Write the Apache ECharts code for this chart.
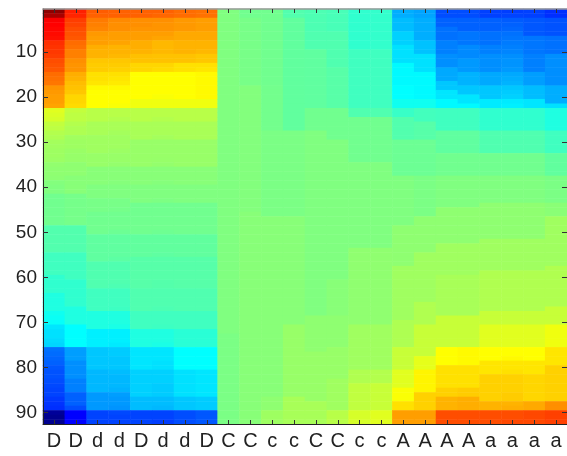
<!DOCTYPE html>
<html>
<head>
<meta charset="utf-8">
<script src="https://cdn.jsdelivr.net/npm/echarts@6/dist/echarts.min.js"></script>
<style>
  html, body { margin: 0; padding: 0; background: #fff; }
  #chart { width: 567px; height: 456px; }
</style>
</head>
<body>
<div id="chart"></div>
<script>
// Column labels along the bottom edge
const xLabels = ['D','D','d','d','D','d','d','D','C','C','c','c','C','C','c','c','A','A','A','A','a','a','a','a'];
// Row tick labels on the left edge
const yTickLabels = [10, 20, 30, 40, 50, 60, 70, 80, 90];
const rowCount = 92;

// Cell values, one array per column, rows 1..92 from top to bottom
const col01 = [
  0.97, 0.92, 0.76, 0.75, 0.74, 0.73, 0.72, 0.66, 0.65, 0.64,
  0.63, 0.60, 0.59, 0.58, 0.54, 0.53, 0.52, 0.46, 0.45, 0.44,
  0.44, 0.43, 0.19, 0.18, 0.17, 0.13, 0.12, 0.10, 0.09, 0.07,
  0.065, 0.06, 0.06, 0.055, 0.035, 0.03, 0.03, 0.025, 0.005, 0.00,
  0.00, -0.03, -0.03, -0.03, -0.03, -0.03, -0.03, -0.03, -0.09, -0.09,
  -0.09, -0.09, -0.09, -0.09, -0.125, -0.125, -0.125, -0.125, -0.125, -0.156,
  -0.156, -0.156, -0.156, -0.19, -0.19, -0.19, -0.19, -0.22, -0.23, -0.24,
  -0.30, -0.31, -0.31, -0.32, -0.33, -0.53, -0.54, -0.55, -0.56, -0.58,
  -0.59, -0.59, -0.60, -0.61, -0.62, -0.62, -0.64, -0.65, -0.66, -0.95,
  -0.97, -0.97
];
const col02 = [
  0.69, 0.68, 0.63, 0.62, 0.60, 0.59, 0.58, 0.54, 0.53, 0.50,
  0.50, 0.47, 0.46, 0.46, 0.41, 0.40, 0.38, 0.37, 0.36, 0.33,
  0.33, 0.32, 0.13, 0.12, 0.12, 0.10, 0.09, 0.09, 0.065, 0.06,
  0.06, 0.05, 0.045, 0.045, 0.03, 0.03, 0.03, 0.015, 0.015, 0.015,
  0.015, -0.02, -0.02, -0.02, -0.02, -0.02, -0.02, -0.02, -0.09, -0.09,
  -0.09, -0.09, -0.09, -0.09, -0.125, -0.125, -0.125, -0.125, -0.125, -0.125,
  -0.156, -0.156, -0.156, -0.156, -0.156, -0.156, -0.19, -0.19, -0.19, -0.19,
  -0.25, -0.25, -0.25, -0.25, -0.25, -0.44, -0.44, -0.44, -0.47, -0.47,
  -0.47, -0.47, -0.50, -0.50, -0.50, -0.56, -0.56, -0.56, -0.60, -0.75,
  -0.75, -0.75
];
const col03 = [
  0.57, 0.56, 0.51, 0.50, 0.49, 0.45, 0.44, 0.44, 0.41, 0.40,
  0.40, 0.36, 0.35, 0.35, 0.31, 0.31, 0.30, 0.26, 0.25, 0.25,
  0.25, 0.25, 0.11, 0.11, 0.11, 0.08, 0.08, 0.08, 0.0625, 0.0625,
  0.0625, 0.0625, 0.047, 0.047, 0.047, 0.016, 0.016, 0.016, 0.016, 0.00,
  0.00, 0.00, -0.015, -0.015, -0.015, -0.03, -0.03, -0.03, -0.03, -0.03,
  -0.0625, -0.0625, -0.0625, -0.0625, -0.0625, -0.0625, -0.094, -0.094, -0.094, -0.094,
  -0.094, -0.094, -0.125, -0.125, -0.125, -0.125, -0.125, -0.19, -0.19, -0.19,
  -0.19, -0.28, -0.28, -0.28, -0.28, -0.36, -0.36, -0.36, -0.36, -0.36,
  -0.39, -0.39, -0.39, -0.39, -0.39, -0.45, -0.45, -0.45, -0.45, -0.62,
  -0.62, -0.62
];
const col04 = [
  0.56, 0.56, 0.48, 0.47, 0.47, 0.44, 0.44, 0.43, 0.40, 0.40,
  0.39, 0.36, 0.35, 0.34, 0.31, 0.30, 0.29, 0.26, 0.25, 0.25,
  0.25, 0.24, 0.11, 0.11, 0.10, 0.08, 0.08, 0.07, 0.0625, 0.0625,
  0.0625, 0.055, 0.047, 0.047, 0.04, 0.016, 0.016, 0.016, 0.01, 0.00,
  0.00, 0.00, -0.015, -0.015, -0.02, -0.03, -0.03, -0.03, -0.03, -0.04,
  -0.0625, -0.0625, -0.0625, -0.0625, -0.0625, -0.07, -0.094, -0.094, -0.094, -0.094,
  -0.094, -0.10, -0.125, -0.125, -0.125, -0.125, -0.13, -0.19, -0.19, -0.19,
  -0.20, -0.28, -0.28, -0.28, -0.29, -0.35, -0.35, -0.36, -0.36, -0.36,
  -0.38, -0.39, -0.39, -0.39, -0.40, -0.44, -0.45, -0.45, -0.46, -0.61,
  -0.62, -0.62
];
const col05 = [
  0.56, 0.56, 0.47, 0.47, 0.46, 0.44, 0.44, 0.41, 0.41, 0.40,
  0.375, 0.37, 0.33, 0.33, 0.25, 0.25, 0.25, 0.25, 0.25, 0.25,
  0.22, 0.22, 0.11, 0.11, 0.11, 0.08, 0.08, 0.08, 0.08, 0.047,
  0.047, 0.047, 0.047, 0.047, 0.047, 0.015, 0.015, 0.015, 0.015, 0.00,
  0.00, 0.00, 0.00, -0.03, -0.03, -0.03, -0.03, -0.03, -0.03, -0.03,
  -0.06, -0.06, -0.06, -0.06, -0.06, -0.08, -0.08, -0.08, -0.08, -0.08,
  -0.08, -0.08, -0.094, -0.094, -0.094, -0.094, -0.094, -0.125, -0.125, -0.125,
  -0.125, -0.19, -0.19, -0.19, -0.19, -0.30, -0.30, -0.30, -0.30, -0.30,
  -0.34, -0.34, -0.34, -0.34, -0.34, -0.34, -0.38, -0.38, -0.38, -0.62,
  -0.62, -0.62
];
const col06 = [
  0.56, 0.55, 0.47, 0.46, 0.46, 0.44, 0.43, 0.39, 0.39, 0.39,
  0.37, 0.37, 0.33, 0.32, 0.25, 0.25, 0.25, 0.25, 0.25, 0.24,
  0.22, 0.22, 0.11, 0.11, 0.10, 0.08, 0.08, 0.08, 0.07, 0.047,
  0.047, 0.047, 0.047, 0.045, 0.04, 0.015, 0.015, 0.015, 0.01, 0.00,
  0.00, 0.00, -0.005, -0.03, -0.03, -0.03, -0.03, -0.03, -0.03, -0.035,
  -0.06, -0.06, -0.06, -0.06, -0.065, -0.08, -0.08, -0.08, -0.08, -0.08,
  -0.085, -0.085, -0.094, -0.094, -0.094, -0.094, -0.10, -0.125, -0.125, -0.125,
  -0.13, -0.19, -0.19, -0.19, -0.20, -0.30, -0.30, -0.30, -0.31, -0.31,
  -0.34, -0.34, -0.34, -0.35, -0.35, -0.35, -0.38, -0.38, -0.39, -0.62,
  -0.62, -0.63
];
const col07 = [
  0.54, 0.54, 0.45, 0.45, 0.45, 0.42, 0.42, 0.40, 0.40, 0.40,
  0.37, 0.37, 0.31, 0.31, 0.25, 0.25, 0.25, 0.25, 0.25, 0.25,
  0.22, 0.22, 0.11, 0.11, 0.11, 0.08, 0.08, 0.08, 0.08, 0.047,
  0.047, 0.047, 0.047, 0.047, 0.047, 0.015, 0.015, 0.015, 0.015, 0.00,
  0.00, 0.00, 0.00, -0.03, -0.03, -0.03, -0.03, -0.03, -0.03, -0.03,
  -0.06, -0.06, -0.06, -0.06, -0.06, -0.08, -0.08, -0.08, -0.08, -0.08,
  -0.08, -0.08, -0.094, -0.094, -0.094, -0.094, -0.094, -0.125, -0.125, -0.125,
  -0.125, -0.17, -0.17, -0.17, -0.17, -0.25, -0.25, -0.25, -0.25, -0.25,
  -0.31, -0.31, -0.31, -0.31, -0.31, -0.31, -0.36, -0.36, -0.36, -0.60,
  -0.60, -0.60
];
const col08 = [
  0.53, 0.53, 0.44, 0.44, 0.44, 0.42, 0.42, 0.40, 0.40, 0.39,
  0.36, 0.36, 0.31, 0.30, 0.26, 0.26, 0.26, 0.26, 0.26, 0.26,
  0.22, 0.22, 0.11, 0.11, 0.11, 0.08, 0.08, 0.08, 0.08, 0.047,
  0.047, 0.047, 0.047, 0.047, 0.047, 0.015, 0.015, 0.015, 0.015, 0.00,
  0.00, 0.00, 0.00, -0.03, -0.03, -0.03, -0.03, -0.03, -0.03, -0.03,
  -0.06, -0.06, -0.06, -0.06, -0.06, -0.08, -0.08, -0.08, -0.08, -0.08,
  -0.08, -0.08, -0.094, -0.094, -0.094, -0.094, -0.094, -0.125, -0.125, -0.125,
  -0.125, -0.17, -0.17, -0.17, -0.17, -0.25, -0.25, -0.25, -0.25, -0.25,
  -0.30, -0.30, -0.30, -0.30, -0.30, -0.30, -0.35, -0.35, -0.35, -0.58,
  -0.58, -0.58
];
const col09 = [
  0.00, 0.00, 0.00, 0.00, 0.00, 0.00, 0.00, 0.00, 0.00, 0.00,
  0.00, 0.00, 0.00, 0.00, 0.00, 0.00, 0.00, 0.00, 0.00, 0.00,
  0.00, 0.00, 0.00, 0.00, 0.00, 0.00, 0.00, 0.00, 0.00, 0.00,
  0.00, 0.00, 0.00, 0.00, 0.00, 0.00, 0.00, 0.00, 0.00, 0.00,
  0.00, 0.00, 0.00, 0.00, 0.00, 0.00, 0.00, 0.00, 0.00, 0.00,
  0.00, 0.00, 0.00, 0.00, 0.00, 0.00, 0.00, 0.00, 0.00, 0.00,
  0.00, 0.00, 0.00, 0.00, 0.00, 0.00, 0.00, 0.00, 0.00, 0.00,
  0.00, 0.00, -0.01, -0.01, -0.01, -0.01, -0.01, -0.01, -0.01, -0.01,
  -0.01, -0.01, -0.01, -0.01, -0.01, -0.01, -0.01, -0.01, -0.01, -0.01,
  -0.01, -0.01
];
const col10 = [
  -0.03, -0.03, -0.015, -0.015, -0.015, -0.015, -0.015, -0.015, -0.015, -0.015,
  -0.015, -0.015, -0.015, -0.015, -0.015, -0.015, -0.015, 0.005, 0.005, 0.005,
  0.005, 0.005, 0.005, 0.005, 0.005, 0.005, 0.005, 0.005, 0.005, 0.005,
  0.005, 0.005, 0.005, 0.005, 0.005, 0.005, 0.005, 0.005, 0.005, 0.005,
  0.005, 0.005, 0.005, 0.005, 0.005, 0.015, 0.015, 0.015, 0.015, 0.015,
  0.015, 0.015, 0.015, 0.015, 0.015, 0.015, 0.015, 0.015, 0.015, 0.015,
  0.015, 0.015, 0.015, 0.015, 0.015, 0.015, 0.015, 0.015, 0.015, 0.015,
  0.015, 0.015, 0.015, 0.015, 0.015, 0.015, 0.015, 0.015, 0.015, 0.015,
  0.015, 0.015, 0.015, 0.015, 0.015, 0.015, 0.015, 0.015, 0.015, 0.015,
  0.015, 0.015
];
const col11 = [
  -0.03, -0.03, -0.03, -0.03, -0.03, -0.03, -0.03, -0.03, -0.03, -0.03,
  -0.03, -0.03, -0.03, -0.03, -0.03, -0.03, -0.03, -0.025, -0.025, -0.025,
  -0.025, -0.025, -0.025, -0.025, -0.025, -0.025, -0.025, -0.01, -0.01, -0.01,
  -0.01, -0.01, -0.01, -0.01, -0.01, -0.01, -0.01, -0.01, -0.01, -0.01,
  -0.01, -0.01, -0.01, -0.01, -0.01, -0.01, 0.015, 0.015, 0.015, 0.015,
  0.015, 0.015, 0.015, 0.015, 0.015, 0.015, 0.015, 0.015, 0.015, 0.015,
  0.015, 0.015, 0.015, 0.015, 0.015, 0.015, 0.015, 0.015, 0.015, 0.015,
  0.015, 0.015, 0.015, 0.015, 0.015, 0.015, 0.015, 0.015, 0.015, 0.015,
  0.015, 0.015, 0.015, 0.015, 0.015, 0.015, 0.03, 0.03, 0.03, 0.06,
  0.06, 0.06
];
const col12 = [
  -0.09, -0.09, -0.06, -0.06, -0.06, -0.06, -0.06, -0.06, -0.06, -0.06,
  -0.06, -0.06, -0.06, -0.06, -0.06, -0.06, -0.06, -0.06, -0.06, -0.06,
  -0.06, -0.06, -0.06, -0.06, -0.06, -0.06, -0.06, -0.01, -0.01, -0.01,
  -0.01, -0.01, -0.01, -0.01, -0.01, -0.01, -0.01, -0.01, -0.01, -0.01,
  -0.01, -0.01, -0.01, -0.01, -0.01, -0.01, 0.015, 0.015, 0.015, 0.015,
  0.015, 0.015, 0.015, 0.015, 0.015, 0.015, 0.015, 0.015, 0.015, 0.015,
  0.015, 0.015, 0.015, 0.015, 0.015, 0.015, 0.015, 0.015, 0.015, 0.015,
  0.047, 0.047, 0.047, 0.047, 0.047, 0.047, 0.047, 0.047, 0.047, 0.047,
  0.047, 0.047, 0.047, 0.047, 0.047, 0.047, 0.078, 0.078, 0.078, 0.078,
  0.078, 0.078
];
const col13 = [
  -0.10, -0.10, -0.10, -0.10, -0.10, -0.094, -0.094, -0.094, -0.094, -0.0625,
  -0.0625, -0.0625, -0.0625, -0.0625, -0.0625, -0.0625, -0.0625, -0.0625, -0.0625, -0.0625,
  -0.0625, -0.0625, -0.03, -0.03, -0.03, -0.03, -0.03, 0.00, 0.00, 0.00,
  0.00, 0.00, 0.00, 0.00, 0.00, 0.00, 0.00, 0.00, 0.00, 0.00,
  0.00, 0.00, 0.00, 0.00, 0.00, 0.00, 0.00, 0.00, 0.00, 0.00,
  0.00, 0.00, 0.00, 0.00, 0.00, 0.00, 0.00, 0.00, 0.00, 0.00,
  0.00, 0.00, 0.00, 0.00, 0.00, 0.00, 0.00, 0.00, 0.03, 0.03,
  0.03, 0.03, 0.03, 0.03, 0.03, 0.03, 0.047, 0.047, 0.047, 0.047,
  0.047, 0.047, 0.047, 0.047, 0.047, 0.047, 0.047, 0.078, 0.078, 0.078,
  0.078, 0.078
];
const col14 = [
  -0.11, -0.11, -0.11, -0.11, -0.11, -0.094, -0.094, -0.094, -0.094, -0.094,
  -0.094, -0.094, -0.094, -0.078, -0.078, -0.078, -0.078, -0.078, -0.078, -0.078,
  -0.078, -0.078, -0.03, -0.03, -0.03, -0.03, -0.03, -0.03, -0.03, 0.00,
  0.00, 0.00, 0.00, 0.00, 0.00, 0.00, 0.00, 0.00, 0.00, 0.00,
  0.00, 0.00, 0.00, 0.00, 0.00, 0.00, 0.00, 0.00, 0.00, 0.00,
  0.00, 0.00, 0.00, 0.00, 0.00, 0.00, 0.00, 0.00, 0.00, 0.00,
  0.016, 0.016, 0.016, 0.016, 0.016, 0.016, 0.016, 0.016, 0.03, 0.03,
  0.03, 0.03, 0.03, 0.03, 0.03, 0.047, 0.047, 0.047, 0.047, 0.047,
  0.047, 0.047, 0.0625, 0.0625, 0.0625, 0.0625, 0.0625, 0.0625, 0.0625, 0.11,
  0.11, 0.11
];
const col15 = [
  -0.156, -0.156, -0.156, -0.156, -0.156, -0.156, -0.156, -0.156, -0.156, -0.125,
  -0.125, -0.125, -0.125, -0.125, -0.125, -0.125, -0.125, -0.125, -0.125, -0.125,
  -0.125, -0.125, -0.094, -0.094, -0.03, -0.03, -0.03, -0.03, -0.03, -0.03,
  -0.03, -0.03, -0.03, -0.03, 0.00, 0.00, 0.00, 0.00, 0.00, 0.00,
  0.00, 0.00, 0.00, 0.00, 0.00, 0.00, 0.00, 0.00, 0.00, 0.00,
  0.00, 0.00, 0.00, 0.031, 0.031, 0.031, 0.031, 0.031, 0.031, 0.031,
  0.031, 0.031, 0.031, 0.031, 0.031, 0.031, 0.031, 0.031, 0.031, 0.031,
  0.0625, 0.0625, 0.0625, 0.0625, 0.0625, 0.0625, 0.0625, 0.0625, 0.0625, 0.0625,
  0.094, 0.094, 0.094, 0.125, 0.125, 0.125, 0.125, 0.125, 0.125, 0.17,
  0.17, 0.17
];
const col16 = [
  -0.15, -0.15, -0.15, -0.15, -0.15, -0.15, -0.15, -0.15, -0.15, -0.125,
  -0.125, -0.125, -0.125, -0.125, -0.125, -0.125, -0.125, -0.125, -0.125, -0.125,
  -0.125, -0.125, -0.094, -0.094, -0.03, -0.03, -0.03, -0.03, -0.03, -0.03,
  -0.03, -0.03, -0.03, -0.03, 0.00, 0.00, 0.00, 0.00, 0.00, 0.00,
  0.00, 0.00, 0.00, 0.00, 0.00, 0.00, 0.00, 0.00, 0.00, 0.00,
  0.00, 0.00, 0.00, 0.031, 0.031, 0.031, 0.031, 0.031, 0.031, 0.031,
  0.031, 0.031, 0.031, 0.031, 0.031, 0.031, 0.031, 0.031, 0.031, 0.031,
  0.0625, 0.0625, 0.0625, 0.0625, 0.0625, 0.0625, 0.0625, 0.0625, 0.0625, 0.0625,
  0.10, 0.10, 0.10, 0.14, 0.14, 0.14, 0.14, 0.14, 0.14, 0.19,
  0.19, 0.19
];
const col17 = [
  -0.41, -0.41, -0.38, -0.38, -0.38, -0.34, -0.34, -0.34, -0.31, -0.31,
  -0.31, -0.31, -0.26, -0.26, -0.26, -0.26, -0.26, -0.25, -0.25, -0.25,
  -0.22, -0.22, -0.14, -0.14, -0.09, -0.09, -0.09, -0.09, -0.09, -0.04,
  -0.04, -0.04, -0.04, -0.04, -0.04, -0.04, -0.04, 0.00, 0.00, 0.00,
  0.00, 0.00, 0.00, 0.00, 0.00, 0.00, 0.00, 0.00, 0.03, 0.03,
  0.03, 0.03, 0.03, 0.03, 0.03, 0.03, 0.03, 0.0625, 0.0625, 0.0625,
  0.0625, 0.0625, 0.0625, 0.0625, 0.0625, 0.0625, 0.0625, 0.0625, 0.0625, 0.09,
  0.09, 0.09, 0.09, 0.09, 0.09, 0.14, 0.14, 0.14, 0.14, 0.14,
  0.19, 0.19, 0.19, 0.19, 0.24, 0.24, 0.24, 0.31, 0.31, 0.44,
  0.44, 0.44
];
const col18 = [
  -0.43, -0.43, -0.41, -0.41, -0.41, -0.41, -0.41, -0.37, -0.37, -0.37,
  -0.31, -0.31, -0.31, -0.31, -0.26, -0.26, -0.26, -0.26, -0.26, -0.26,
  -0.22, -0.22, -0.12, -0.12, -0.12, -0.08, -0.08, -0.08, -0.08, -0.04,
  -0.04, -0.04, -0.04, -0.04, -0.04, -0.04, -0.04, -0.01, -0.01, -0.01,
  -0.01, -0.01, -0.01, -0.01, -0.01, -0.01, 0.03, 0.03, 0.03, 0.03,
  0.03, 0.03, 0.03, 0.03, 0.0625, 0.0625, 0.0625, 0.0625, 0.0625, 0.0625,
  0.0625, 0.0625, 0.0625, 0.0625, 0.0625, 0.094, 0.094, 0.094, 0.094, 0.094,
  0.14, 0.14, 0.14, 0.14, 0.14, 0.14, 0.14, 0.20, 0.20, 0.20,
  0.27, 0.27, 0.27, 0.27, 0.27, 0.34, 0.34, 0.34, 0.34, 0.44,
  0.44, 0.44
];
const col19 = [
  -0.60, -0.60, -0.56, -0.56, -0.53, -0.53, -0.53, -0.50, -0.50, -0.50,
  -0.47, -0.47, -0.47, -0.42, -0.42, -0.42, -0.36, -0.36, -0.30, -0.30,
  -0.26, -0.26, -0.125, -0.125, -0.125, -0.125, -0.125, -0.0625, -0.0625, -0.0625,
  -0.0625, -0.0625, -0.03, -0.03, -0.03, -0.03, -0.03, 0.00, 0.00, 0.00,
  0.00, 0.00, 0.00, 0.00, 0.03, 0.03, 0.03, 0.03, 0.03, 0.03,
  0.03, 0.03, 0.0625, 0.0625, 0.0625, 0.0625, 0.0625, 0.0625, 0.0625, 0.078,
  0.078, 0.078, 0.078, 0.078, 0.078, 0.078, 0.078, 0.078, 0.14, 0.14,
  0.14, 0.14, 0.14, 0.14, 0.14, 0.25, 0.25, 0.25, 0.25, 0.31,
  0.31, 0.31, 0.31, 0.31, 0.34, 0.34, 0.40, 0.40, 0.40, 0.60,
  0.60, 0.60
];
const col20 = [
  -0.60, -0.60, -0.56, -0.56, -0.56, -0.52, -0.52, -0.52, -0.48, -0.48,
  -0.48, -0.45, -0.45, -0.45, -0.40, -0.40, -0.40, -0.36, -0.36, -0.30,
  -0.30, -0.26, -0.125, -0.125, -0.125, -0.125, -0.125, -0.0625, -0.0625, -0.0625,
  -0.0625, -0.0625, -0.03, -0.03, -0.03, -0.03, -0.03, 0.00, 0.00, 0.00,
  0.00, 0.00, 0.00, 0.00, 0.03, 0.03, 0.03, 0.03, 0.03, 0.03,
  0.03, 0.03, 0.0625, 0.0625, 0.0625, 0.0625, 0.0625, 0.0625, 0.0625, 0.078,
  0.078, 0.078, 0.078, 0.078, 0.078, 0.078, 0.078, 0.078, 0.14, 0.14,
  0.14, 0.14, 0.14, 0.14, 0.14, 0.26, 0.26, 0.26, 0.26, 0.31,
  0.31, 0.31, 0.31, 0.31, 0.35, 0.35, 0.41, 0.41, 0.41, 0.60,
  0.60, 0.60
];
const col21 = [
  -0.625, -0.625, -0.56, -0.56, -0.56, -0.53, -0.53, -0.53, -0.50, -0.50,
  -0.47, -0.47, -0.47, -0.47, -0.42, -0.42, -0.42, -0.36, -0.36, -0.36,
  -0.29, -0.29, -0.156, -0.156, -0.156, -0.156, -0.156, -0.094, -0.094, -0.094,
  -0.094, -0.094, -0.03, -0.03, -0.03, -0.03, -0.03, 0.00, 0.00, 0.00,
  0.00, 0.00, 0.00, 0.03, 0.03, 0.03, 0.03, 0.03, 0.03, 0.03,
  0.03, 0.0625, 0.0625, 0.0625, 0.0625, 0.0625, 0.0625, 0.0625, 0.094, 0.094,
  0.094, 0.094, 0.094, 0.094, 0.094, 0.094, 0.094, 0.14, 0.14, 0.14,
  0.19, 0.19, 0.19, 0.19, 0.19, 0.25, 0.25, 0.25, 0.30, 0.30,
  0.30, 0.34, 0.34, 0.34, 0.34, 0.34, 0.34, 0.40, 0.40, 0.60,
  0.60, 0.60
];
const col22 = [
  -0.63, -0.62, -0.57, -0.56, -0.55, -0.53, -0.52, -0.51, -0.50, -0.49,
  -0.47, -0.46, -0.46, -0.45, -0.42, -0.41, -0.40, -0.36, -0.35, -0.34,
  -0.29, -0.28, -0.156, -0.156, -0.156, -0.156, -0.156, -0.094, -0.094, -0.094,
  -0.094, -0.094, -0.03, -0.03, -0.03, -0.03, -0.03, 0.00, 0.00, 0.00,
  0.00, 0.00, 0.00, 0.03, 0.03, 0.03, 0.03, 0.03, 0.03, 0.03,
  0.03, 0.0625, 0.0625, 0.0625, 0.0625, 0.0625, 0.0625, 0.0625, 0.094, 0.094,
  0.094, 0.094, 0.094, 0.094, 0.094, 0.094, 0.094, 0.14, 0.14, 0.14,
  0.19, 0.19, 0.19, 0.19, 0.19, 0.25, 0.25, 0.26, 0.30, 0.30,
  0.31, 0.34, 0.34, 0.34, 0.34, 0.35, 0.35, 0.40, 0.41, 0.60,
  0.60, 0.61
];
const col23 = [
  -0.625, -0.625, -0.58, -0.58, -0.58, -0.58, -0.52, -0.52, -0.52, -0.52,
  -0.50, -0.50, -0.50, -0.50, -0.44, -0.44, -0.44, -0.38, -0.38, -0.38,
  -0.30, -0.30, -0.156, -0.156, -0.156, -0.156, -0.156, -0.094, -0.094, -0.094,
  -0.094, -0.094, -0.03, -0.03, -0.03, -0.03, -0.03, 0.00, 0.00, 0.00,
  0.00, 0.00, 0.00, 0.03, 0.03, 0.03, 0.03, 0.03, 0.03, 0.03,
  0.03, 0.0625, 0.0625, 0.0625, 0.0625, 0.0625, 0.0625, 0.0625, 0.094, 0.094,
  0.094, 0.094, 0.094, 0.094, 0.094, 0.094, 0.094, 0.14, 0.14, 0.14,
  0.19, 0.19, 0.19, 0.19, 0.19, 0.25, 0.25, 0.25, 0.30, 0.30,
  0.30, 0.33, 0.33, 0.33, 0.33, 0.33, 0.33, 0.42, 0.42, 0.61,
  0.61, 0.61
];
const col24 = [
  -0.66, -0.66, -0.59, -0.59, -0.59, -0.59, -0.53, -0.53, -0.53, -0.53,
  -0.47, -0.47, -0.47, -0.47, -0.47, -0.47, -0.47, -0.41, -0.41, -0.41,
  -0.41, -0.31, -0.19, -0.19, -0.19, -0.19, -0.19, -0.125, -0.125, -0.125,
  -0.125, -0.125, -0.06, -0.06, -0.06, -0.06, -0.06, -0.01, -0.01, -0.01,
  -0.01, -0.01, -0.01, 0.02, 0.02, 0.02, 0.0625, 0.0625, 0.0625, 0.0625,
  0.0625, 0.0625, 0.0625, 0.0625, 0.0625, 0.0625, 0.0625, 0.094, 0.094, 0.094,
  0.094, 0.094, 0.094, 0.094, 0.094, 0.094, 0.14, 0.14, 0.14, 0.14,
  0.22, 0.22, 0.22, 0.22, 0.22, 0.30, 0.30, 0.30, 0.30, 0.34,
  0.34, 0.34, 0.34, 0.34, 0.34, 0.34, 0.34, 0.47, 0.47, 0.625,
  0.625, 0.625
];

const columns = [col01, col02, col03, col04, col05, col06, col07, col08,
                 col09, col10, col11, col12, col13, col14, col15, col16,
                 col17, col18, col19, col20, col21, col22, col23, col24];

// Row categories 1..92 and heatmap triples [column, row, value]
const rowNames = Array.from({ length: rowCount }, (_, i) => String(i + 1));
const cells = [];
columns.forEach((col, ci) => {
  col.forEach((v, ri) => cells.push([ci, ri, v]));
});

// Jet colour ramp (stops at eighths)
const jet = ['#000080', '#0000ff', '#0080ff', '#00ffff', '#80ff80',
             '#ffff00', '#ff8000', '#ff0000', '#800000'];

const isTickRow = (idx) => yTickLabels.indexOf(idx + 1) !== -1;
const font = 'Liberation Sans, Arial, Helvetica, sans-serif';

const chart = echarts.init(document.getElementById('chart'), null, { renderer: 'canvas' });
chart.setOption({
  animation: false,
  backgroundColor: '#ffffff',
  grid: { left: 43, top: 9, width: 525.5, height: 415, containLabel: false },
  visualMap: {
    show: false, type: 'continuous', min: -1, max: 1,
    dimension: 2, inRange: { color: jet }
  },
  xAxis: [
    {
      type: 'category', data: xLabels, position: 'bottom', z: 10,
      axisLine: { show: true, lineStyle: { color: '#222', width: 1 } },
      axisTick: { show: true, inside: true, alignWithLabel: true, length: 4,
                  lineStyle: { color: '#333' } },
      axisLabel: { show: true, interval: 0, margin: 7, fontSize: 20,
                   color: '#222', fontFamily: font },
      splitLine: { show: false }
    },
    {
      type: 'category', data: xLabels, position: 'top', z: 10,
      axisLine: { show: true, lineStyle: { color: '#999', width: 1.5 } },
      axisTick: { show: true, inside: true, alignWithLabel: true, length: 4,
                  lineStyle: { color: '#333' } },
      axisLabel: { show: false },
      splitLine: { show: false }
    }
  ],
  yAxis: [
    {
      type: 'category', data: rowNames, inverse: true, position: 'left', z: 10,
      axisLine: { show: true, lineStyle: { color: '#222', width: 1 } },
      axisTick: { show: true, inside: true, alignWithLabel: true, length: 5,
                  interval: isTickRow, lineStyle: { color: '#333' } },
      axisLabel: { show: true, interval: isTickRow, margin: 6, fontSize: 19,
                   color: '#222', fontFamily: font },
      splitLine: { show: false }
    },
    {
      type: 'category', data: rowNames, inverse: true, position: 'right', z: 10,
      axisLine: { show: true, lineStyle: { color: '#222', width: 1 } },
      axisTick: { show: true, inside: true, alignWithLabel: true, length: 5,
                  interval: isTickRow, lineStyle: { color: '#333' } },
      axisLabel: { show: false },
      splitLine: { show: false }
    }
  ],
  series: [{
    type: 'heatmap',
    xAxisIndex: 0, yAxisIndex: 0,
    data: cells,
    itemStyle: { borderWidth: 0 },
    emphasis: { disabled: true },
    progressive: 0
  }]
});
</script>
</body>
</html>
